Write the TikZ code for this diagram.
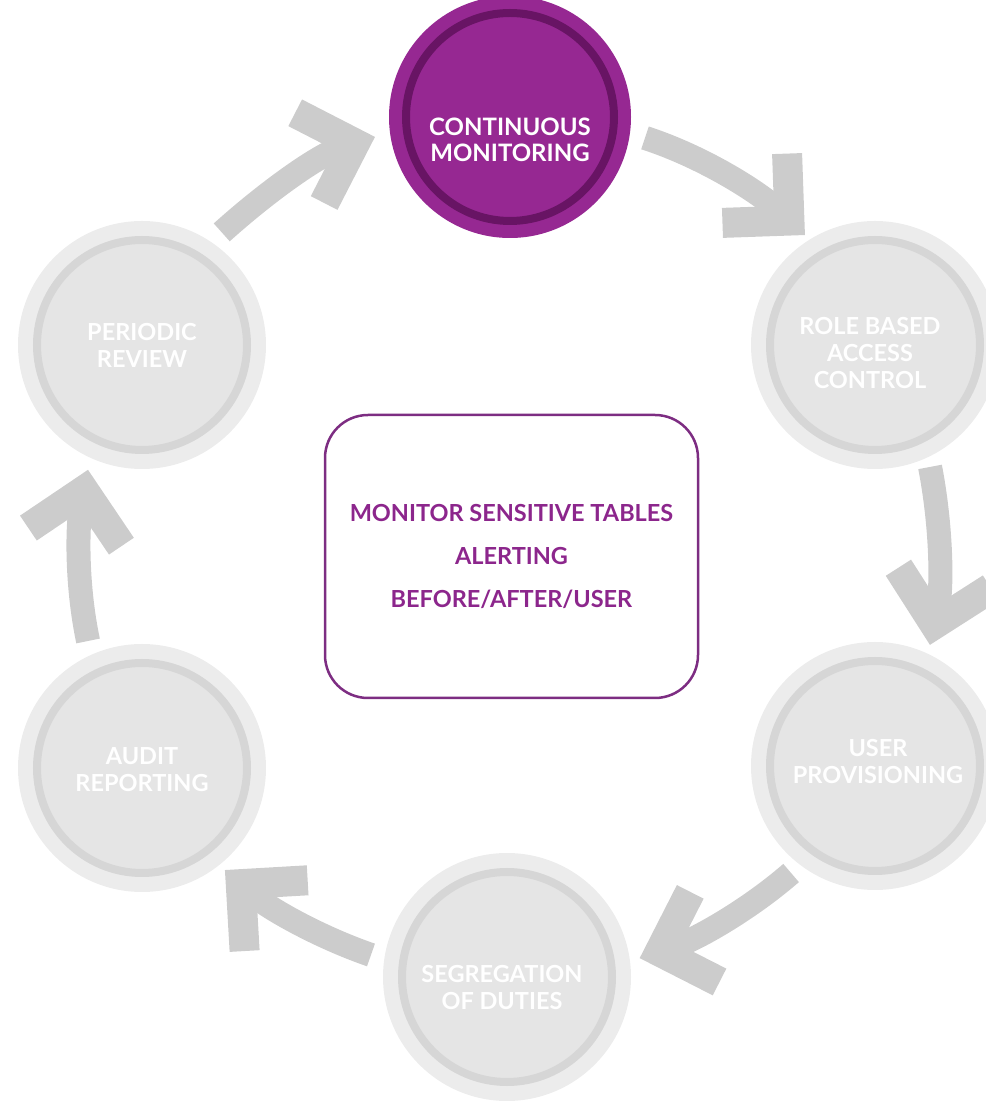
\documentclass[tikz,border=0pt]{standalone}
\usepackage{fontspec}
\setmainfont{Lato}
\usetikzlibrary{arrows.meta}
\definecolor{cmpurple}{RGB}{150,40,146}
\definecolor{cmring}{RGB}{104,20,100}
\definecolor{gouter}{RGB}{236,236,236}
\definecolor{gring}{RGB}{214,214,214}
\definecolor{ginner}{RGB}{229,229,229}
\definecolor{arrowgray}{RGB}{204,204,204}
\definecolor{boxline}{RGB}{125,45,130}
\definecolor{boxtext}{RGB}{140,38,140}
\tikzset{
  stage/.style={circle, minimum size=248pt, inner sep=0pt, outer sep=0pt, fill=gouter,
    path picture={\draw[gring, line width=8pt, fill=ginner] (path picture bounding box.center) circle (105pt);}},
  active/.style={circle, minimum size=242pt, inner sep=0pt, outer sep=0pt, fill=cmpurple,
    path picture={\draw[cmring, line width=8pt] (path picture bounding box.center) circle (104pt);}},
  stagetext/.style={text=white, font=\bfseries\fontsize{23.5}{27}\selectfont, align=center, inner sep=0pt},
  cmtext/.style={text=white, font=\bfseries\fontsize{24}{26}\selectfont, align=center, inner sep=0pt},
  cyc/.style={draw=arrowgray, line width=24pt, looseness=0.85,
    -{Straight Barb[sharp, angle=90:67pt, line width=0pt 1.25]}},
}
\begin{document}
\begin{tikzpicture}[x=1pt, y=1pt]
\useasboundingbox (0,0) rectangle (986,1104);
\clip (0,0) rectangle (986,1104);
% stages
\node[active, label={[cmtext, yshift=-23pt]center:CONTINUOUS\\MONITORING}] (cm) at (510,987) {};
\node[stage, label={[stagetext, xshift=-5pt, yshift=-8pt]center:ROLE BASED\\ACCESS\\CONTROL}] (rb) at (875,759) {};
\node[stage, label={[stagetext, xshift=3pt, yshift=4pt]center:USER\\PROVISIONING}] (up) at (875,338) {};
\node[stage, label={[stagetext, xshift=-5pt, yshift=-11pt]center:SEGREGATION\\OF DUTIES}] (sod) at (507,127) {};
\node[stage, label={[stagetext, yshift=-2pt]center:AUDIT\\REPORTING}] (ar) at (142,336) {};
\node[stage, label={[stagetext]center:PERIODIC\\REVIEW}] (pr) at (142,759) {};
% centre box
\node[draw=boxline, line width=2.5pt, rounded corners=43pt, minimum width=373pt, minimum height=283pt,
  text=boxtext, font=\bfseries\fontsize{23.5}{43}\selectfont, align=center] (box) at (511.5,547.5)
  {MONITOR SENSITIVE TABLES\\ALERTING\\BEFORE/AFTER/USER};
% cycle arrows
\draw[cyc] ([shift={(-8.8:136.6)}]cm.center) to[out=-18, in=137] ([shift={(122.5:130.4)}]rb.center);
\draw[cyc] ([shift={(-65.7:133.8)}]rb.center) to[out=-79, in=77.6] ([shift={(65.6:133)}]up.center);
\draw[cyc] ([shift={(231.9:136)}]up.center) to[out=221, in=18] ([shift={(8.1:134)}]sod.center);
\draw[cyc] ([shift={(170.8:137.8)}]sod.center) to[out=161, in=-41.7] ([shift={(-50.9:131.5)}]ar.center);
\draw[cyc] ([shift={(113:138)}]ar.center) to[out=102, in=-101] ([shift={(-113.4:136)}]pr.center);
\draw[cyc] ([shift={(54.7:138)}]pr.center) to[out=42, in=197.8] ([shift={(188.4:136.5)}]cm.center);
\end{tikzpicture}
\end{document}
